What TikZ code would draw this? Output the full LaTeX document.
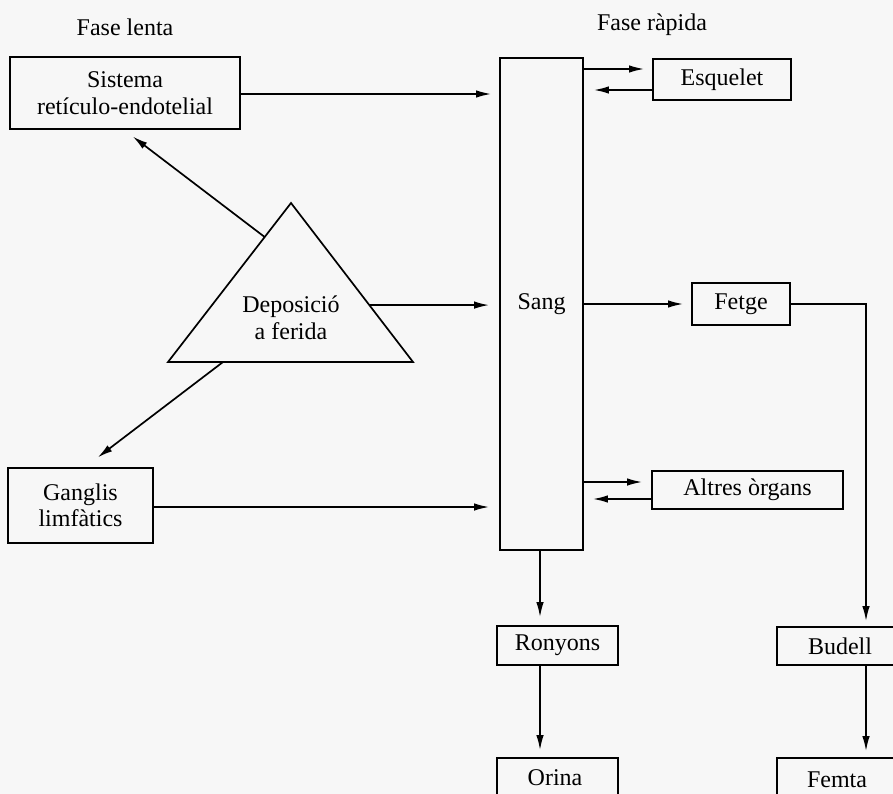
\documentclass[tikz,border=0pt]{standalone}
\usepackage{fontspec}
\setmainfont{Liberation Serif}
\usetikzlibrary{arrows.meta,calc}
\begin{document}
\begin{tikzpicture}[x=1pt,y=-1pt,
  txt/.style={inner sep=0pt, align=center, font=\fontsize{24}{26.5}\selectfont},
  box/.style={txt, draw, line width=1.7pt},
  arr/.style={line width=1.7pt, -{Latex[length=15pt,width=7.5pt]}},
  ln/.style={line width=1.7pt}]
\useasboundingbox (0,0) rectangle (893,794);
\fill[black!3] (0,0) rectangle (893,794);
\clip (0,0) rectangle (893,794);
% headings
\node[txt] (lenta) at (125,27) {Fase lenta};
\node[txt] (rapida) at (652,25) {Fase ràpida};
% boxes
\node[box, minimum width=230pt, minimum height=72pt] (sistema) at (125,93) {Sistema\\retículo-endotelial};
\node[box, minimum width=83pt, minimum height=492pt] (sang) at (541.5,304) {Sang};
\node[box, minimum width=138pt, minimum height=41pt] (esquelet) at (722,79.5) {Esquelet};
\node[box, minimum width=98pt, minimum height=42pt] (fetge) at (741,304) {Fetge};
\node[box, minimum width=191pt, minimum height=38pt] (altres) at (747.5,490) {Altres òrgans};
\node[box, minimum width=145pt, minimum height=75pt] (ganglis) at (80.5,505.5) {Ganglis\\limfàtics};
\node[box, minimum width=121pt, minimum height=39pt] (ronyons) at (557.5,645.5) {Ronyons};
\node[box, minimum width=126pt, minimum height=38pt] (budell) at (840,646) {Budell};
\node[box, minimum width=121pt, minimum height=72pt] (orina) at (557.5,794) {};
\node[txt] (orinat) at (555,778) {Orina};
\node[box, minimum width=126pt, minimum height=72pt] (femta) at (840,794) {};
\node[txt] (femtat) at (837,780) {Femta};
% triangle
\coordinate (tA) at (291,203);
\coordinate (tL) at (168,362);
\coordinate (tR) at (413,362);
\draw[ln, line join=miter] (tA) -- (tR) -- (tL) -- cycle;
\node[txt] (depo) at (291,318) {Deposició\\a ferida};
\coordinate (tL1) at ($(tA)!0.214!(tL)$);
\coordinate (tR1) at ($(tA)!0.642!(tR)$);
\coordinate (tB1) at (223,362);
% connectors
\draw[arr, shorten >=8pt] (sistema.east |- 0,94) -- (sang.west |- 0,94);
\draw[arr, shorten >=8pt] (sang.east |- 0,69) -- (esquelet.west |- 0,69);
\draw[arr, shorten >=10pt] (esquelet.west |- 0,90) -- (sang.east |- 0,90);
\draw[arr, shorten >=10pt] (tR1) -- (tR1 -| sang.west);
\draw[arr, shorten >=11pt] (tL1) -- (sistema.south -| 124,0);
\draw[arr, shorten >=16pt] (tB1) -- (ganglis.north -| 85,0);
\draw[arr, shorten >=8pt] (sang.east |- fetge.west) -- (fetge.west);
\draw[arr, shorten >=5pt] (fetge.east) -| (budell.north -| 866,0);
\draw[arr, shorten >=9pt] (sang.east |- 0,482) -- (altres.west |- 0,482);
\draw[arr, shorten >=9pt] (altres.west |- 0,499) -- (sang.east |- 0,499);
\draw[arr, shorten >=10pt] (ganglis.east |- 0,507) -- (sang.west |- 0,507);
\draw[arr, shorten >=8pt] (sang.south -| 540,0) -- (ronyons.north -| 540,0);
\draw[arr, shorten >=7pt] (ronyons.south -| 540,0) -- (orina.north -| 540,0);
\draw[arr, shorten >=6pt] (budell.south -| 866,0) -- (femta.north -| 866,0);
\end{tikzpicture}
\end{document}
